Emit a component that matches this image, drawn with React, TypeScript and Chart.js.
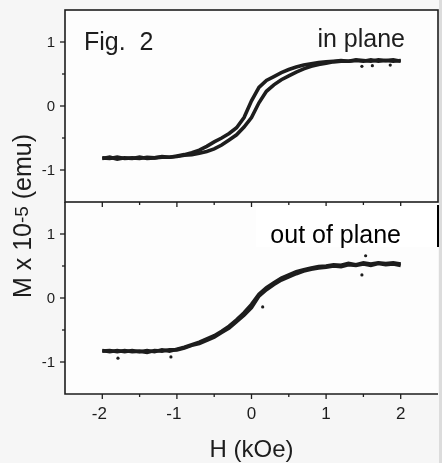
import React, { useEffect, useRef } from "react";
import { Chart, registerables } from "chart.js";

Chart.register(...registerables);

// Applied field H (kOe)
const H_VALUES = [
  -2.0, -1.9, -1.8, -1.7, -1.6, -1.5, -1.4, -1.3, -1.2, -1.1, -1.0,
  -0.9, -0.8, -0.7, -0.6, -0.5, -0.4, -0.3, -0.2, -0.1, 0.0,
  0.1, 0.2, 0.3, 0.4, 0.5, 0.6, 0.7, 0.8, 0.9, 1.0,
  1.1, 1.2, 1.3, 1.4, 1.5, 1.6, 1.7, 1.8, 1.9, 2.0,
];

// In-plane loop (M x 1e-5 emu)
const TOP_ASCENDING = [
  -0.82, -0.80, -0.83, -0.81, -0.82, -0.80, -0.82, -0.81, -0.80, -0.80, -0.79,
  -0.77, -0.76, -0.74, -0.71, -0.67, -0.61, -0.53, -0.45, -0.33, -0.18,
  0.05, 0.23, 0.33, 0.41, 0.47, 0.53, 0.58, 0.62, 0.65, 0.67,
  0.69, 0.70, 0.70, 0.71, 0.70, 0.72, 0.70, 0.71, 0.70, 0.71,
];
const TOP_DESCENDING = [
  -0.81, -0.82, -0.80, -0.82, -0.81, -0.82, -0.80, -0.81, -0.79, -0.80, -0.78,
  -0.76, -0.73, -0.69, -0.63, -0.56, -0.50, -0.43, -0.34, -0.18, 0.08,
  0.29, 0.40, 0.46, 0.52, 0.57, 0.61, 0.64, 0.66, 0.68, 0.69,
  0.70, 0.71, 0.70, 0.72, 0.71, 0.70, 0.72, 0.71, 0.72, 0.70,
];

// Out-of-plane loop (M x 1e-5 emu)
const BOTTOM_ASCENDING = [
  -0.83, -0.82, -0.84, -0.82, -0.84, -0.83, -0.85, -0.82, -0.83, -0.81, -0.81,
  -0.78, -0.74, -0.71, -0.66, -0.61, -0.54, -0.47, -0.37, -0.27, -0.15,
  0.03, 0.13, 0.21, 0.28, 0.33, 0.38, 0.42, 0.45, 0.47, 0.48,
  0.50, 0.49, 0.52, 0.51, 0.53, 0.51, 0.54, 0.52, 0.53, 0.51,
];
const BOTTOM_DESCENDING = [
  -0.82, -0.84, -0.82, -0.84, -0.82, -0.84, -0.82, -0.84, -0.81, -0.83, -0.80,
  -0.77, -0.73, -0.69, -0.64, -0.59, -0.52, -0.44, -0.34, -0.23, -0.10,
  0.06, 0.16, 0.24, 0.31, 0.36, 0.41, 0.44, 0.47, 0.49, 0.50,
  0.52, 0.51, 0.54, 0.52, 0.55, 0.53, 0.55, 0.54, 0.55, 0.53,
];

// Stray measurement points
const TOP_STRAY_H = [1.48, 1.62, 1.86];
const TOP_STRAY_M = [0.62, 0.63, 0.64];
const BOTTOM_STRAY_H = [-1.79, -1.08, 0.15, 1.48, 1.53];
const BOTTOM_STRAY_M = [-0.94, -0.92, -0.14, 0.36, 0.66];

// Axis ticks
const X_MAJOR = [-2, -1, 0, 1, 2];
const X_MINOR = [-1.5, -0.5, 0.5, 1.5];
const Y_MAJOR = [-1, 0, 1];
const Y_MINOR = [-0.5, 0.5];

const FONT = '"Liberation Sans", Arial, sans-serif';
const INK = "#1d1d1d";

const panelPlugin = {
  id: "panels",
  beforeDraw(chart: any) {
    const { ctx, width, height, chartArea } = chart;
    ctx.save();
    ctx.fillStyle = "#f6f6f6";
    ctx.fillRect(0, 0, width, height);
    ctx.fillStyle = "#fdfdfd";
    ctx.fillRect(chartArea.left, chartArea.top, chartArea.right - chartArea.left, chartArea.bottom - chartArea.top);
    ctx.fillStyle = "#dcdcdc";
    ctx.fillRect(chartArea.right + 1, 0, width - chartArea.right, height);
    ctx.restore();
  },
  afterDraw(chart: any) {
    const { ctx, chartArea } = chart;
    const xs = chart.scales.x;
    const yt = chart.scales.yTop;
    const yb = chart.scales.yBottom;
    const L = chartArea.left;
    const R = chartArea.right;
    ctx.save();
    ctx.strokeStyle = INK;
    ctx.fillStyle = INK;
    ctx.lineWidth = 1.6;

    // top panel box
    ctx.strokeRect(L, yt.top, R - L, yt.bottom - yt.top);
    // bottom panel: left + bottom
    ctx.beginPath();
    ctx.moveTo(L, yb.top);
    ctx.lineTo(L, yb.bottom);
    ctx.lineTo(R, yb.bottom);
    ctx.stroke();

    // ticks
    ctx.lineWidth = 1.3;
    const tick = (x1: number, y1: number, x2: number, y2: number) => {
      ctx.beginPath();
      ctx.moveTo(x1, y1);
      ctx.lineTo(x2, y2);
      ctx.stroke();
    };
    for (const panel of [yt, yb]) {
      for (const v of X_MAJOR) {
        const px = xs.getPixelForValue(v);
        tick(px, panel.bottom, px, panel.bottom + 5);
      }
      for (const v of X_MINOR) {
        const px = xs.getPixelForValue(v);
        tick(px, panel.bottom, px, panel.bottom + 3);
      }
      for (const v of Y_MAJOR) {
        const py = panel.getPixelForValue(v);
        tick(L, py, L - 5, py);
      }
      for (const v of Y_MINOR) {
        const py = panel.getPixelForValue(v);
        tick(L, py, L - 3, py);
      }
    }

    // y tick labels
    ctx.font = `15px ${FONT}`;
    ctx.textAlign = "right";
    ctx.textBaseline = "middle";
    for (const panel of [yt, yb]) {
      for (const v of Y_MAJOR) {
        ctx.fillText(String(v), L - 10, panel.getPixelForValue(v) + 1);
      }
    }
    // x tick labels
    ctx.font = `17px ${FONT}`;
    ctx.textAlign = "center";
    ctx.textBaseline = "top";
    for (const v of X_MAJOR) {
      ctx.fillText(String(v), xs.getPixelForValue(v) - (v < 0 ? 3 : 0), yb.bottom + 12);
    }
    // x title
    ctx.font = `24px ${FONT}`;
    ctx.textBaseline = "alphabetic";
    ctx.fillText("H (kOe)", xs.getPixelForValue(0), 457);

    // y title, rotated
    ctx.save();
    ctx.translate(31, 216);
    ctx.rotate(-Math.PI / 2);
    const big = `25px ${FONT}`;
    const small = `19px ${FONT}`;
    const parts = [
      { t: "M x 10", f: big, dy: 0 },
      { t: "-5", f: small, dy: -3 },
      { t: " (emu)", f: big, dy: 0 },
    ];
    let total = 0;
    for (const p of parts) {
      ctx.font = p.f;
      total += ctx.measureText(p.t).width;
    }
    let cx = -total / 2;
    ctx.textAlign = "left";
    ctx.textBaseline = "alphabetic";
    for (const p of parts) {
      ctx.font = p.f;
      ctx.fillText(p.t, cx, p.dy);
      cx += ctx.measureText(p.t).width;
    }
    ctx.restore();

    // panel labels
    ctx.font = `25px ${FONT}`;
    ctx.textAlign = "left";
    ctx.fillText("Fig.  2", 84, 50);
    ctx.textAlign = "right";
    ctx.fillText("in plane", 405, 47);

    // pasted "out of plane" label
    ctx.fillStyle = "#ffffff";
    ctx.fillRect(256, 206, R - 256, 41);
    ctx.strokeStyle = "#000";
    ctx.lineWidth = 2;
    tick(R, 205, R, 247);
    ctx.fillStyle = "#000";
    ctx.font = `25px ${FONT}`;
    ctx.fillText("out of plane", 401, 243);

    ctx.restore();
  },
};

function lineSet(h: number[], m: number[], axis: string) {
  return {
    data: h.map((x, i) => ({ x, y: m[i] })),
    yAxisID: axis,
    showLine: true,
    borderColor: INK,
    borderWidth: 3.6,
    pointRadius: 0,
    tension: 0,
    fill: false,
  };
}

function dotSet(h: number[], m: number[], axis: string) {
  return {
    data: h.map((x, i) => ({ x, y: m[i] })),
    yAxisID: axis,
    showLine: false,
    pointRadius: 1.6,
    pointBorderWidth: 0,
    backgroundColor: INK,
    borderColor: INK,
  };
}

export default function App() {
  const ref = useRef<HTMLCanvasElement>(null);

  useEffect(() => {
    if (!ref.current) return;
    const yScale = (weight: number) => ({
      type: "linear" as const,
      position: "left" as const,
      stack: "M",
      stackWeight: 1,
      weight,
      min: -1.5,
      max: 1.5,
      offset: false,
      grid: { display: false, drawTicks: false },
      border: { display: false },
      ticks: { display: false },
      afterFit: (s: any) => {
        s.width = 65;
      },
    });
    const chart = new Chart(ref.current, {
      type: "scatter",
      data: {
        datasets: [
          lineSet(H_VALUES, TOP_ASCENDING, "yTop"),
          lineSet(H_VALUES, TOP_DESCENDING, "yTop"),
          lineSet(H_VALUES, BOTTOM_ASCENDING, "yBottom"),
          lineSet(H_VALUES, BOTTOM_DESCENDING, "yBottom"),
          dotSet(TOP_STRAY_H, TOP_STRAY_M, "yTop"),
          dotSet(BOTTOM_STRAY_H, BOTTOM_STRAY_M, "yBottom"),
        ] as any,
      },
      options: {
        animation: false,
        responsive: false,
        layout: { padding: { top: 10, right: 3, left: 0, bottom: 0 } },
        plugins: { legend: { display: false }, tooltip: { enabled: false } },
        scales: {
          x: {
            type: "linear",
            min: -2.5,
            max: 2.5,
            grid: { display: false, drawTicks: false },
            border: { display: false },
            ticks: { display: false },
            afterFit: (s: any) => {
              s.height = 69;
            },
          },
          yBottom: yScale(1),
          yTop: yScale(1),
        } as any,
      },
      plugins: [panelPlugin],
    });
    return () => chart.destroy();
  }, []);

  return (
    <div style={{ position: "fixed", left: 0, top: 0, width: 442, height: 463, background: "#f6f6f6" }}>
      <canvas ref={ref} width={442} height={463} style={{ width: 442, height: 463, display: "block" }} />
    </div>
  );
}
